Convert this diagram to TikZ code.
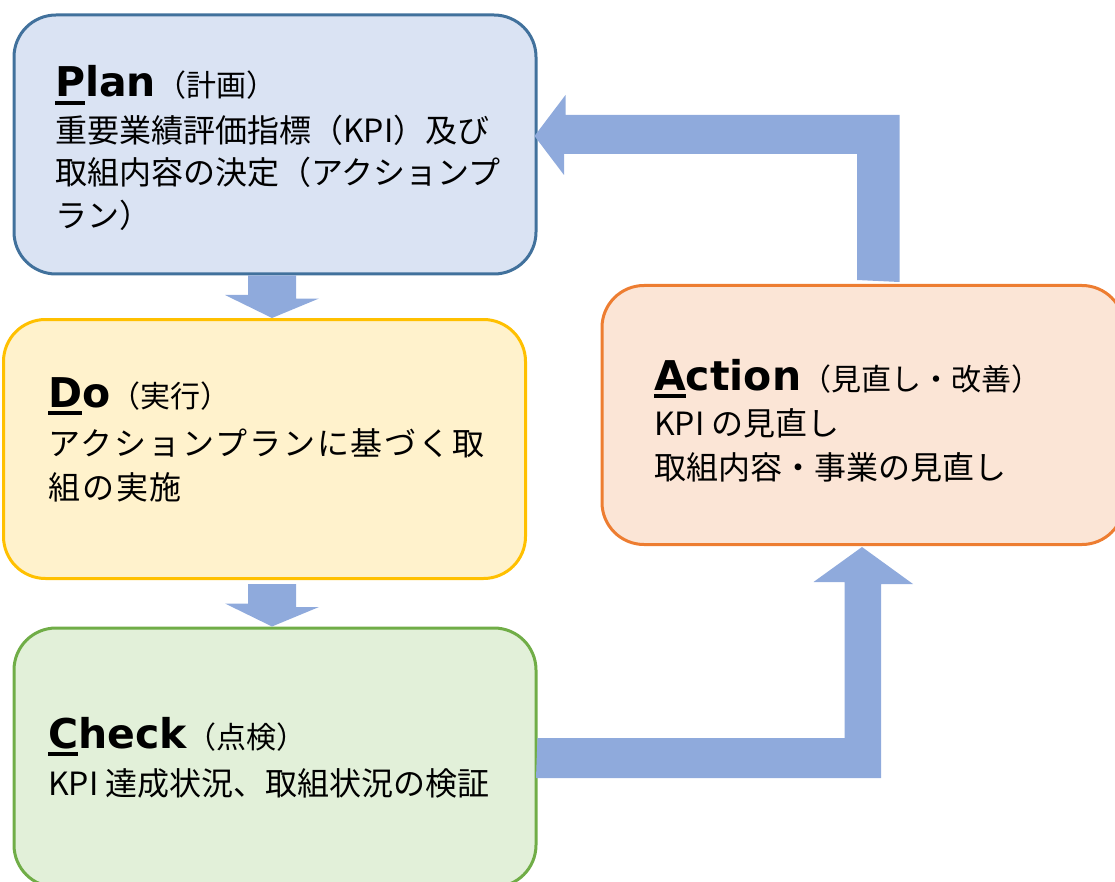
\documentclass[tikz,border=0pt]{standalone}
\usepackage{fontspec}
\setmainfont{Noto Sans CJK JP}
\newfontfamily\titlelat{DejaVu Sans}
\usetikzlibrary{calc}
\definecolor{planfill}{HTML}{DAE3F3}
\definecolor{planline}{HTML}{41719C}
\definecolor{dofill}{HTML}{FFF2CC}
\definecolor{doline}{HTML}{FFC000}
\definecolor{checkfill}{HTML}{E2F0D9}
\definecolor{checkline}{HTML}{70AD47}
\definecolor{actfill}{HTML}{FBE5D6}
\definecolor{actline}{HTML}{ED7D31}
\definecolor{arrcol}{HTML}{8FAADC}
\newcommand\firstul[1]{\setbox0\hbox{#1}\rlap{\vrule width\wd0 height -4pt depth 8pt}\box0}
\newcommand\parenpart[1]{{\normalfont\fontsize{30}{36}\selectfont #1}}
\begin{document}
\begin{tikzpicture}[x=1pt,y=-1pt,
  box/.style={rectangle, rounded corners=42pt, line width=3pt, minimum width=522pt, minimum height=259pt, inner sep=0pt},
  ttl/.style={anchor=base west, inner sep=0pt, font=\titlelat\fontsize{41}{50}\selectfont\bfseries},
  body/.style={anchor=base west, inner sep=0pt, font=\fontsize{32}{40}\selectfont},
  arr/.style={fill=arrcol}]
\useasboundingbox (0,0) rectangle (1115,882);
\clip (0,0) rectangle (1115,882);
% boxes
\node[box, draw=planline, fill=planfill] (plan) at (275,144.5) {};
\node[box, draw=doline, fill=dofill] (do) at (264.5,449) {};
\node[box, draw=checkline, fill=checkfill] (check) at (275,757.5) {};
\node[box, draw=actline, fill=actfill] (action) at (863,415) {};
% texts
\node[ttl] (plant) at (55,97) {\firstul{P}lan\parenpart{（計画）}};
\node[body] (plan1) at (55,143) {重要業績評価指標（KPI）及び};
\node[body] (plan2) at (55,185) {取組内容の決定（アクションプ};
\node[body] (plan3) at (55,228) {ラン）};
\node[ttl] (dot) at (48,407) {\firstul{D}o\parenpart{（実行）}};
\node[body] (do1) at (48,455) {\addfontfeature{LetterSpace=6}アクションプランに基づく取};
\node[body] (do2) at (48,499) {\addfontfeature{LetterSpace=6}組の実施};
\node[ttl] (checkt) at (48,748) {\firstul{C}heck\parenpart{（点検）}};
\node[body] (check1) at (48,795) {KPI 達成状況、取組状況の検証};
\node[ttl] (actiont) at (654,390) {\firstul{A}ction\parenpart{（見直し・改善）}};
\node[body] (action1) at (654,435) {KPI の見直し};
\node[body] (action2) at (654,479) {取組内容・事業の見直し};
% arrows
\fill[arr] ($(plan.south)+(-27,0)$) -- ++(48,0) -- ++(0,23) -- ++(23,0)
  -- ($(do.north)+(7.5,0)$) -- ++(-47,-23) -- ++(23,0) -- cycle;
\fill[arr] ($(do.south)+(-16.5,4)$) -- ++(48,0) -- ++(0,23) -- ++(23,0)
  -- ($(check.north)+(-3,0)$) -- ++(-47,-23) -- ++(23,0) -- cycle;
\fill[arr] ($(check.east)+(0,-19.5)$) -- ++(307,0) -- ++(0,-156) -- ++(-31,0)
  -- ($(action.south)+(-1,1)$) -- ++(51,37) -- ++(-32,0) -- ++(0,194) -- ++(-345,0) -- cycle;
\fill[arr] ($(action.north)+(-6,-4)$) -- ++(0,-126) -- ++(-293,0) -- ++(0,21)
  -- ($(plan.east)+(-3,-8.5)$) -- ++(31,-41) -- ++(0,20) -- ++(334,0) -- ++(0,167) -- cycle;
\end{tikzpicture}
\end{document}
